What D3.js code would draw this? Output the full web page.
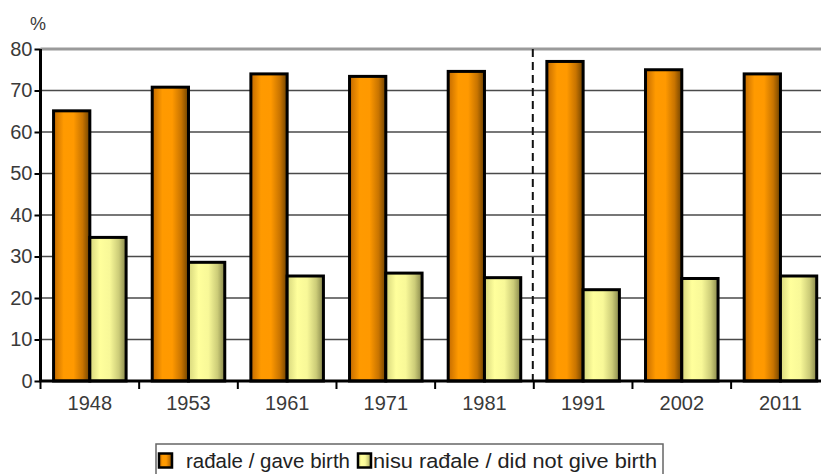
<!DOCTYPE html>
<html><head><meta charset="utf-8">
<script src="https://cdn.jsdelivr.net/npm/d3@7"></script>
<style>html,body{margin:0;padding:0;background:#fff;overflow:hidden}svg{display:block;font-family:"Liberation Sans",Arial,sans-serif}</style>
</head><body>
<script>
const years = ["1948","1953","1961","1971","1981","1991","2002","2011"];
const gaveBirth = [65.1,70.8,74.0,73.4,74.6,77.0,75.0,74.0];
const didNotGiveBirth = [34.6,28.6,25.3,26.0,24.9,22.0,24.7,25.3];
const seriesNames = ["rađale / gave birth","nisu rađale / did not give birth"];
const yTicks = [0,10,20,30,40,50,60,70,80];

const W=821,H=474;
const svg=d3.select("body").append("svg").attr("width",W).attr("height",H);
const defs=svg.append("defs");
function grad(id,stops){
  const g=defs.append("linearGradient").attr("id",id).attr("x1","0%").attr("x2","100%").attr("y1","0%").attr("y2","0%");
  stops.forEach(s=>g.append("stop").attr("offset",s[0]).attr("stop-color",s[1]));
}
grad("gOr",[[0,"#c26a00"],[0.28,"#ff9a00"],[0.55,"#ff9900"],[0.8,"#c87400"],[1,"#6e4200"]]);
grad("gYe",[[0,"#d6d67c"],[0.28,"#ffff9c"],[0.55,"#f8f898"],[0.8,"#cccc78"],[1,"#86864a"]]);
const fills=["url(#gOr)","url(#gYe)"];

const x0=40.5, step=98.66;
const x=d3.scaleBand().domain(years).range([x0,x0+step*years.length]).padding(0);
const xs=d3.scaleBand().domain([0,1]).range([0,x.bandwidth()]).paddingInner(0).paddingOuter(0.36);
const y=d3.scaleLinear().domain([0,80]).range([381,49]);

// gridlines
svg.append("g").selectAll("line").data(yTicks.filter(t=>t>0&&t<80)).join("line")
  .attr("x1",x0).attr("x2",W).attr("y1",d=>y(d)).attr("y2",d=>y(d))
  .attr("stroke","#4a4a4a").attr("stroke-width",1.5);
svg.append("line").attr("x1",x0).attr("x2",W).attr("y1",y(80)).attr("y2",y(80))
  .attr("stroke","#9a9a9a").attr("stroke-width",3);

// dashed separator
svg.append("line").attr("x1",x("1991")-1).attr("x2",x("1991")-1).attr("y1",y(80)).attr("y2",y(0))
  .attr("stroke","#111").attr("stroke-width",2).attr("stroke-dasharray","8,5");

// bars
const rows=years.map((yr,i)=>({yr,vals:[gaveBirth[i],didNotGiveBirth[i]]}));
const grp=svg.append("g").selectAll("g").data(rows).join("g").attr("transform",d=>`translate(${x(d.yr)},0)`);
grp.selectAll("rect").data(d=>d.vals.map((v,k)=>({v,k}))).join("rect")
  .attr("x",d=>xs(d.k)).attr("width",xs.bandwidth())
  .attr("y",d=>y(d.v)).attr("height",d=>y(0)-y(d.v))
  .attr("fill",d=>fills[d.k]).attr("stroke","#000").attr("stroke-width",3);

// y axis
const ya=svg.append("g").attr("transform",`translate(${x0},0)`)
  .call(d3.axisLeft(y).tickValues(yTicks).tickSize(6).tickPadding(2).tickFormat(d3.format("d")));
ya.select(".domain").attr("stroke","#000").attr("stroke-width",3).attr("d",`M0,${y(80)}V${y(0)+1}`);
ya.selectAll(".tick line").attr("stroke","#000").attr("stroke-width",2);
ya.selectAll(".tick text").attr("font-size",20).attr("fill","#3a3a3a").attr("font-family","Liberation Sans, Arial, sans-serif");
svg.append("text").attr("x",30).attr("y",30).attr("font-size",18).attr("fill","#3a3a3a").text("%");

// x axis
const xa=svg.append("g").attr("transform",`translate(0,${y(0)})`)
  .call(d3.axisBottom(x).tickSize(0).tickPadding(15));
xa.select(".domain").attr("stroke","#000").attr("stroke-width",3).attr("d",`M${x0-1},0H${W}`);
xa.selectAll(".tick text").attr("font-size",20).attr("fill","#3a3a3a").attr("font-family","Liberation Sans, Arial, sans-serif");
const bounds=years.map(yr=>x(yr)).concat([x0+step*years.length]);
svg.append("g").selectAll("line").data(bounds).join("line")
  .attr("x1",d=>d).attr("x2",d=>d).attr("y1",y(0)).attr("y2",y(0)+8)
  .attr("stroke","#000").attr("stroke-width",2);

// legend
const lg=svg.append("g");
lg.append("rect").attr("x",156).attr("y",444).attr("width",507).attr("height",32)
  .attr("fill","#fff").attr("stroke","#666").attr("stroke-width",1.5);
const lx=[158,357], tx=[186,373], tl=[164,284];
seriesNames.forEach((n,k)=>{
  lg.append("rect").attr("x",lx[k]+1).attr("y",453.5).attr("width",13).attr("height",14)
    .attr("fill",fills[k]).attr("stroke","#000").attr("stroke-width",2.5);
  lg.append("text").attr("x",tx[k]).attr("y",468).attr("font-size",20.5).attr("fill","#222")
    .attr("textLength",tl[k]).attr("lengthAdjust","spacingAndGlyphs").text(n);
});
</script>
</body></html>
